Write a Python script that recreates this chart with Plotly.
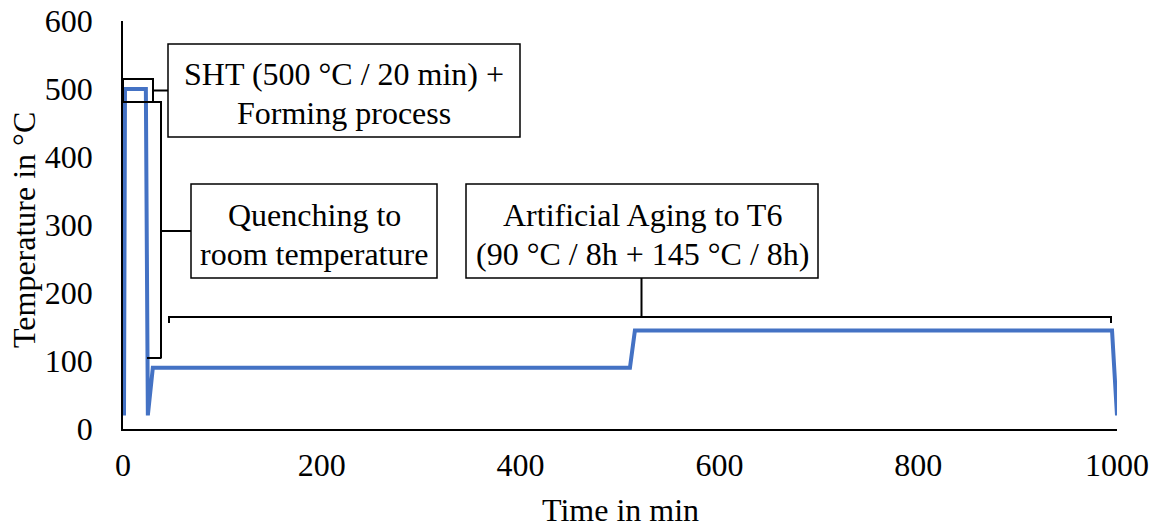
import plotly.graph_objects as go

# ---- data ----
time_min = [1, 2, 23, 25, 30, 510, 515, 995, 1000]
temp_c = [20, 500, 500, 20, 90, 90, 145, 145, 20]

x_ticks = [0, 200, 400, 600, 800, 1000]
y_ticks = [0, 100, 200, 300, 400, 500, 600]

x_title = "Time in min"
y_title = "Temperature in °C"
label_sht = ["SHT (500 °C / 20 min) +", "Forming process"]
label_quench = ["Quenching to", "room temperature"]
label_aging = ["Artificial Aging to T6", "(90 °C / 8h + 145 °C / 8h)"]

# ---- layout geometry (pixels) ----
W, H = 1155, 527
L, R, T, B = 123, 38, 21, 98
PW, PH = W - L - R, H - T - B
FONT = "Liberation Serif"
FS = 32


def px(x):
    return (x - L) / PW


def py(y):
    return (H - B - y) / PH


fig = go.Figure()
fig.add_trace(go.Scatter(x=time_min, y=temp_c, mode="lines",
                         line=dict(color="#4472C4", width=4),
                         showlegend=False, hoverinfo="skip"))

shapes = []


def seg(x0, y0, x1, y1, w=2):
    shapes.append(dict(type="line", xref="paper", yref="paper",
                       x0=px(x0), y0=py(y0), x1=px(x1), y1=py(y1),
                       line=dict(color="black", width=w)))


def box(x0, y0, x1, y1, w=1.5):
    shapes.append(dict(type="rect", xref="paper", yref="paper",
                       x0=px(x0), y0=py(y0), x1=px(x1), y1=py(y1),
                       line=dict(color="black", width=w), fillcolor="white",
                       layer="below"))


# small rectangle around SHT plateau + connector
shapes.append(dict(type="rect", xref="paper", yref="paper",
                   x0=px(123), y0=py(79), x1=px(153), y1=py(102),
                   line=dict(color="black", width=2)))
seg(153, 90.5, 168, 90.5)
box(168, 44, 520, 137)

# quenching bracket
seg(153, 102, 161, 102)
seg(161, 101, 161, 358.5)
seg(147, 358, 161, 358)
seg(161, 231, 191, 231)
box(191, 184, 437, 278)

# aging bracket
seg(169, 317, 1111, 317)
seg(169, 316, 169, 323)
seg(1111, 316, 1111, 323)
seg(641.5, 317, 641.5, 278)
box(466, 184, 818, 278)

annotations = []


def text(x, y, s, angle=0):
    annotations.append(dict(xref="paper", yref="paper", x=px(x), y=py(y),
                            text=s, showarrow=False, xanchor="center",
                            yanchor="middle", textangle=angle,
                            font=dict(family=FONT, size=FS, color="black")))


text(344, 74, label_sht[0])
text(344, 113, label_sht[1])
text(314, 215, label_quench[0])
text(314, 254, label_quench[1])
text(642, 215, label_aging[0])
text(642, 254, label_aging[1])
text(620, 510, x_title)
text(24, 230, y_title, angle=-90)

fig.update_layout(
    width=W, height=H,
    margin=dict(l=L, r=R, t=T, b=B),
    paper_bgcolor="white", plot_bgcolor="white",
    font=dict(family=FONT, size=FS, color="black"),
    shapes=shapes, annotations=annotations,
    xaxis=dict(range=[0, 1000], tickvals=x_ticks, showgrid=False,
               zeroline=False, showline=True, linecolor="black", linewidth=1.5,
               ticks="", ticklabelstandoff=7, automargin=False),
    yaxis=dict(range=[0, 600], tickvals=y_ticks, showgrid=False,
               zeroline=False, showline=True, linecolor="black", linewidth=1.5,
               ticks="", ticklabelstandoff=22, automargin=False),
)

fig.write_html("out.html")
